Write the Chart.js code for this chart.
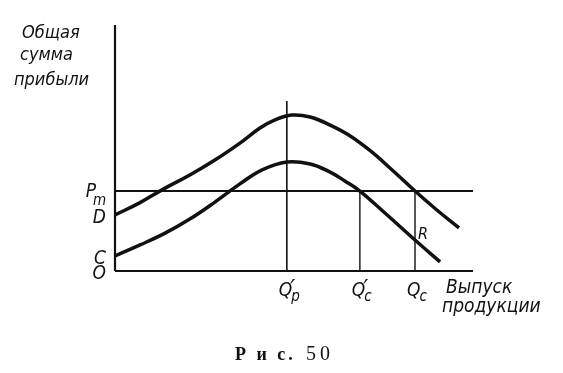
<!DOCTYPE html>
<html><head><meta charset="utf-8">
<script src="https://cdn.jsdelivr.net/npm/chart.js@4/dist/chart.umd.min.js"></script>
<style>html,body{margin:0;padding:0;background:#fff}#w{width:563px;height:373px}</style>
</head><body><div id="w"><canvas id="c"></canvas></div>
<script>
// Data (output on x, total profit on y; arbitrary units)
const upperX = [0, 0.70, 1.40, 2.09, 2.79, 3.49, 4.05, 4.47, 4.94, 5.45, 6.01, 6.56, 7.12, 7.68, 8.38, 8.99, 9.61];
const upperY = [2.28, 2.78, 3.37, 3.90, 4.51, 5.20, 5.81, 6.14, 6.34, 6.26, 5.93, 5.50, 4.90, 4.19, 3.25, 2.48, 1.75];
const lowerX = [0, 0.70, 1.40, 2.09, 2.79, 3.49, 4.11, 4.80, 5.45, 6.01, 6.42, 6.84, 7.54, 8.38, 9.08];
const lowerY = [0.61, 1.06, 1.54, 2.11, 2.80, 3.54, 4.11, 4.43, 4.35, 4.02, 3.66, 3.25, 2.36, 1.26, 0.37];
const PM = 3.25, D = 2.28, C = 0.61;
const QP = 4.80, QPtop = 6.91, QC1 = 6.84, QC = 8.38;
const yTickLabels = [{t:'P', sub:'m', v:PM}, {t:'D', v:D}, {t:'C', v:C}, {t:'O', v:0}];
const xTickLabels = [{t:'Q', prime:true, sub:'p', v:QP}, {t:'Q', prime:true, sub:'c', v:QC1}, {t:'Q', sub:'c', v:QC}];
const yTitle = ['Общая', 'сумма', 'прибыли'];
const xTitle = ['Выпуск', 'продукции'];
const captionWord = 'Р и с.';
const captionNum = '50';
const rLabel = 'R';

const zip = (xs, ys) => xs.map((x, i) => ({x, y: ys[i]}));
const INK = '#111';
const seg = (pts, w) => ({data: pts, borderColor: INK, borderWidth: w, pointRadius: 0, tension: 0, fill: false});
const curve = (pts) => ({data: pts, borderColor: INK, borderWidth: 3.5, pointRadius: 0, tension: 0.4, fill: false, borderCapStyle: 'butt', borderJoinStyle: 'round'});

const SANS = "'Liberation Sans Narrow','DejaVu Sans Condensed','Liberation Sans',sans-serif";

const labels = {
  id: 'labels',
  afterDraw(chart) {
    const ctx = chart.ctx, xs = chart.scales.x, ys = chart.scales.y;
    ctx.save();
    ctx.fillStyle = INK;
    ctx.textBaseline = 'alphabetic';
    // y title
    ctx.font = 'italic 18px ' + SANS;
    ctx.textAlign = 'left';
    ctx.fillText(yTitle[0], 22, 38);
    ctx.fillText(yTitle[1], 20, 60);
    ctx.fillText(yTitle[2], 14, 85);
    // y tick labels
    yTickLabels.forEach(l => {
      const py = ys.getPixelForValue(l.v);
      ctx.font = 'italic 19px ' + SANS;
      ctx.textAlign = 'right';
      if (l.sub) {
        ctx.fillText(l.t, 96, py + 6);
        ctx.font = 'italic 15px ' + SANS;
        ctx.textAlign = 'left';
        ctx.fillText(l.sub, 93, py + 14);
      } else {
        ctx.fillText(l.t, 106, py + 8);
      }
    });
    // x tick labels
    xTickLabels.forEach(l => {
      const px = xs.getPixelForValue(l.v);
      ctx.font = 'italic 19px ' + SANS;
      ctx.textAlign = 'left';
      const x0 = px - 8;
      ctx.fillText(l.t, x0, 296);
      const w = ctx.measureText(l.t).width;
      if (l.prime) {
        ctx.font = 'italic 24px ' + SANS;
        ctx.fillText('\u2032', x0 + w - 2, 297);
      }
      ctx.font = 'italic 15px ' + SANS;
      ctx.fillText(l.sub, x0 + w - 1, 301);
    });
    // x title
    ctx.font = 'italic 19px ' + SANS;
    ctx.textAlign = 'left';
    ctx.fillText(xTitle[0], 446, 293);
    ctx.fillText(xTitle[1], 442, 312);
    // R
    ctx.font = 'italic 16px ' + SANS;
    ctx.fillText(rLabel, 418, 239);
    // caption
    ctx.font = 'bold 18px "Liberation Serif","DejaVu Serif",serif';
    ctx.textAlign = 'left';
    try { ctx.letterSpacing = '3px'; } catch (e) {}
    ctx.fillText(captionWord, 235, 360);
    try { ctx.letterSpacing = '4px'; } catch (e) {}
    ctx.font = '20px "Liberation Serif","DejaVu Serif",serif';
    ctx.fillText(captionNum, 306, 360);
    ctx.restore();
  }
};

new Chart(document.getElementById('c'), {
  type: 'line',
  data: {
    datasets: [
      seg([{x:0, y:0}, {x:0, y:10}], 2.2),
      seg([{x:0, y:0}, {x:10, y:0}], 2.2),
      seg([{x:0, y:PM}, {x:10, y:PM}], 2),
      seg([{x:QP, y:0}, {x:QP, y:QPtop}], 1.6),
      seg([{x:QC1, y:0}, {x:QC1, y:PM}], 1.4),
      seg([{x:QC, y:0}, {x:QC, y:PM}], 1.4),
      curve(zip(upperX, upperY)),
      curve(zip(lowerX, lowerY))
    ]
  },
  options: {
    responsive: true,
    maintainAspectRatio: false,
    animation: false,
    devicePixelRatio: 1,
    clip: false,
    layout: {padding: {left: 115, right: 90, top: 25, bottom: 102}},
    plugins: {legend: {display: false}, tooltip: {enabled: false}},
    scales: {
      x: {type: 'linear', min: 0, max: 10, display: false},
      y: {type: 'linear', min: 0, max: 10, display: false}
    }
  },
  plugins: [labels]
});
</script>
</body></html>
